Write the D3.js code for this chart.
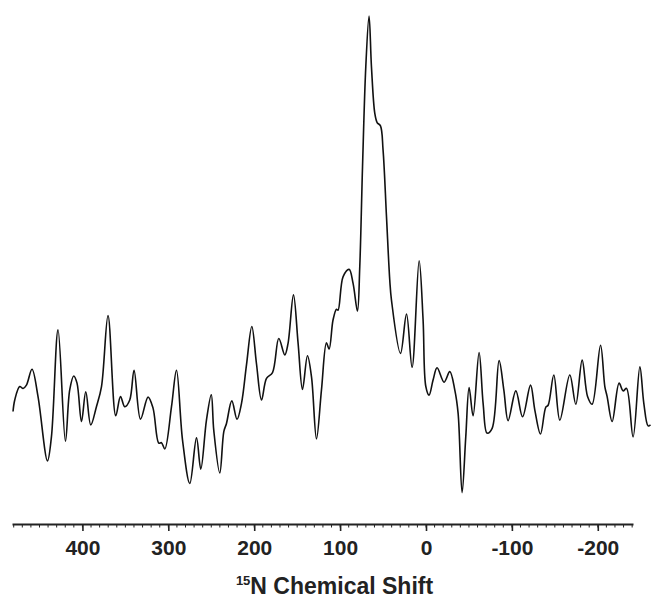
<!DOCTYPE html>
<html><head><meta charset="utf-8">
<script src="https://cdn.jsdelivr.net/npm/d3@7"></script>
<style>body{margin:0;background:#fff}svg{display:block}</style>
</head><body>
<svg id="c" width="651" height="600"></svg>
<script>
// chemical shift (ppm)
const shift = [480.8,478.8,473.0,469.1,465.2,458.7,451.7,440.7,436.1,428.4,419.8,414.8,410.1,406.3,401.1,396.1,390.3,383.7,377.8,370.2,361.2,355.7,350.7,344.9,339.9,332.4,323.6,317.8,311.1,308.0,304.1,296.3,290.5,283.5,275.0,267.2,262.2,255.6,250.0,247.1,240.1,235.4,232.3,226.1,220.0,214.8,209.0,202.8,197.4,191.5,185.7,178.7,171.4,164.4,160.6,154.3,148.9,143.8,138.0,133.3,127.5,121.7,115.9,112.8,108.2,104.2,102.4,96.5,89.5,84.9,79.8,77.1,73.9,70.1,66.3,63.5,59.6,56.9,53.0,50.0,46.0,42.2,40.2,29.7,22.7,16.2,8.0,3.4,0.2,-3.6,-8.3,-12.9,-21.1,-27.7,-33.5,-37.4,-42.0,-46.3,-50.2,-54.8,-61.8,-66.5,-71.1,-77.0,-85.1,-90.6,-95.6,-104.6,-112.4,-121.7,-126.7,-133.3,-139.5,-142.2,-148.8,-155.8,-167.4,-174.4,-181.8,-188.1,-193.4,-203.2,-208.2,-210.9,-216.7,-224.8,-229.5,-233.5,-241.1,-249.0,-253.6,-258.6,-261.4];
// intensity (arbitrary units)
const intensity = [17.4,19.8,22.6,22.2,22.9,26.2,20.5,7.1,12.1,34.4,11.2,21.9,24.8,23.3,15.3,21.5,14.6,18.4,22.6,37.4,16.5,20.5,18.4,19.8,26.0,15.8,20.4,18.1,10.8,10.9,9.6,18.4,26.0,11.5,2.4,11.9,5.4,15.6,20.9,13.5,4.6,13.2,14.9,19.6,15.8,19.1,27.1,35.1,27.4,19.8,24.3,25.5,32.6,29.2,31.6,41.7,31.6,22.0,29.0,24.6,11.7,21.9,31.7,30.4,36.5,38.7,38.5,45.5,47.0,44.1,38.3,47.6,68.4,89.2,99.8,89.2,79.5,77.6,76.9,71.9,58.0,44.8,40.6,29.5,37.7,26.6,48.8,36.5,22.6,20.8,24.0,26.5,23.5,25.7,21.9,17.0,0.5,12.1,22.4,16.5,29.7,19.1,12.9,13.9,28.0,21.9,15.5,21.7,16.3,22.9,17.7,12.7,18.3,18.7,25.0,15.6,25.0,18.9,28.1,20.5,18.9,31.2,22.6,20.5,15.3,23.3,21.7,22.2,12.1,26.7,19.1,14.4,14.6];
const majorTicks = [400,300,200,100,0,-100,-200];
const majorLabels = ["400","300","200","100","0","-100","-200"];
const xDomain = [482, -241];
const xTitle = "Chemical Shift";
const xTitleSup = "15";

const svg = d3.select("#c");
const x = d3.scaleLinear().domain(xDomain).range([12, 633]);
const y = d3.scaleLinear().domain([0, 100]).range([495, 15]);
const axisY = 524;

const data = shift.map((s,i)=>({s, v:intensity[i]}));
const line = d3.line().x(d=>x(d.s)).y(d=>y(d.v)).curve(d3.curveCatmullRom.alpha(0.5));
svg.append("path").datum(data).attr("d", line)
  .attr("fill","none").attr("stroke","#111").attr("stroke-width",1.6).attr("stroke-linejoin","round");

// minor ticks
const minor = d3.range(480, -241, -10);
const ax = svg.append("g").attr("transform",`translate(0,${axisY})`);
ax.selectAll("line.minor").data(minor).join("line").attr("class","minor")
  .attr("x1",d=>x(d)).attr("x2",d=>x(d)).attr("y1",0).attr("y2",3.5)
  .attr("stroke","#222").attr("stroke-width",1);
const axis = d3.axisBottom(x).tickValues(majorTicks)
  .tickFormat((d,i)=>majorLabels[i]).tickSize(7).tickPadding(9).tickSizeOuter(0);
ax.call(axis);
ax.select(".domain").attr("stroke","#222").attr("stroke-width",2.2);
ax.selectAll(".tick line").attr("stroke","#222").attr("stroke-width",1.6);
ax.selectAll(".tick text").attr("font-family","Liberation Sans, Arial, sans-serif")
  .attr("font-size",21).attr("font-weight","bold").attr("fill","#222");

const t = svg.append("text").attr("x",(227+442)/2).attr("y",594).attr("text-anchor","middle")
  .attr("font-family","Liberation Sans, Arial, sans-serif").attr("font-weight","bold").attr("fill","#222");
t.append("tspan").attr("font-size",13).attr("dy",-9).text(xTitleSup);
t.append("tspan").attr("font-size",23).attr("dy",9).text("N " + xTitle);
</script>
</body></html>
